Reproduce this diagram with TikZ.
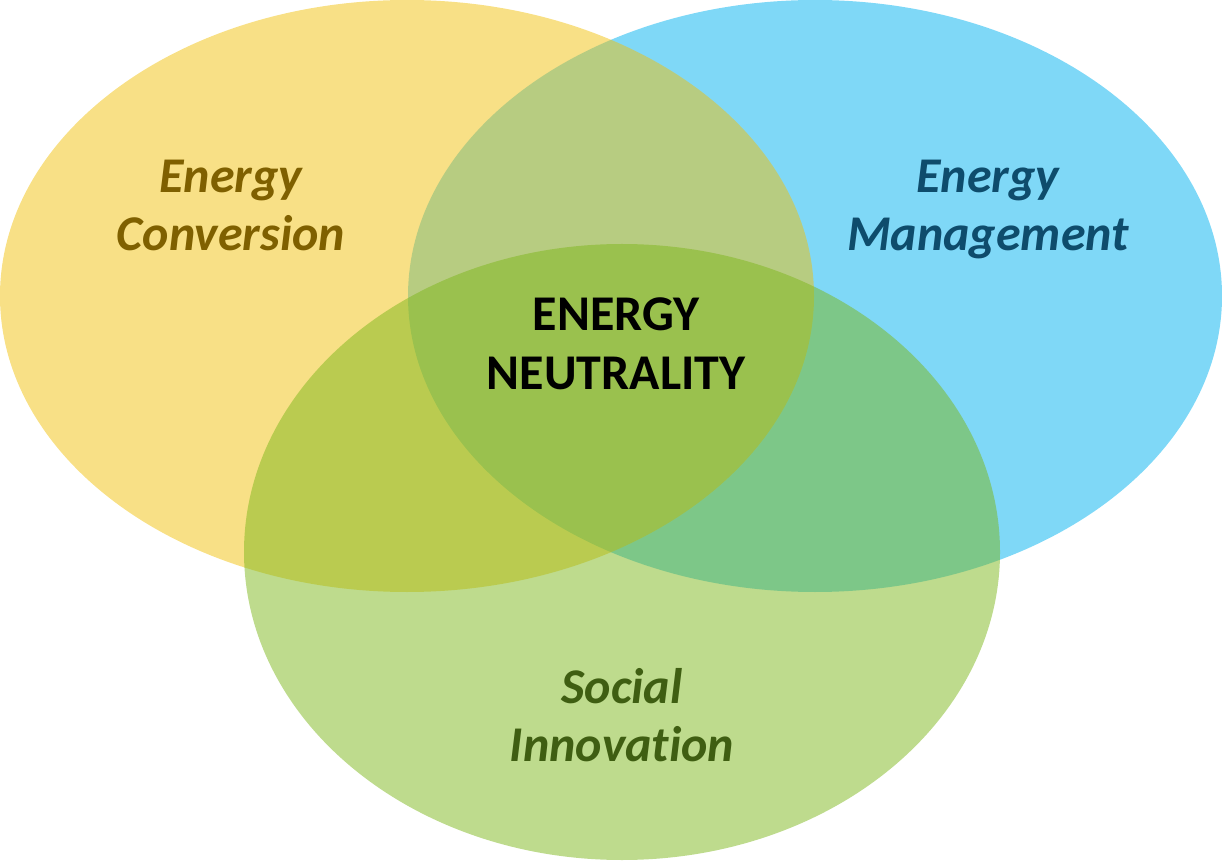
\documentclass[tikz,border=0pt]{standalone}
\usepackage{fontspec}
\setmainfont[Ligatures=NoCommon]{Carlito}
\usetikzlibrary{shapes.geometric}

\definecolor{convYellow}{HTML}{F1C10D}
\definecolor{mgmtBlue}{HTML}{00B1EF}
\definecolor{socGreen}{HTML}{7DB71B}
\definecolor{convText}{HTML}{7F6000}
\definecolor{mgmtText}{HTML}{0E4C6C}
\definecolor{socText}{HTML}{3F5E12}

\begin{document}
\begin{tikzpicture}[
  x=1pt, y=1pt,
  set/.style = {
    ellipse, draw=none, inner sep=0pt, fill opacity=0.5,
  },
  area/.style = {
    font=\fontsize{50}{58}\selectfont\bfseries\itshape, align=center,
  },
  core/.style = {
    font=\fontsize{50}{59}\selectfont\bfseries, align=center, text=black,
  },
]
  \useasboundingbox (0,0) rectangle (1222,860);

  % the three sets, blue under yellow under green
  \node[set, fill=mgmtBlue,   minimum width=814pt, minimum height=592pt] (mgmt) at (815,564) {};
  \node[set, fill=convYellow, minimum width=814pt, minimum height=592pt] (conv) at (407,564) {};
  \node[set, fill=socGreen,   minimum width=756pt, minimum height=616pt] (soc)  at (622,308) {};

  % labels
  \node[area, text=convText] (convlabel) at (231,655) {Energy\\Conversion};
  \node[area, text=mgmtText] (mgmtlabel) at (988,650) {Energy\\Management};
  \node[area, text=socText]  (soclabel)  at (622,145) {Social\\Innovation};
  \node[core]                (corelabel) at (616,516) {ENERGY\\NEUTRALITY};
\end{tikzpicture}
\end{document}
